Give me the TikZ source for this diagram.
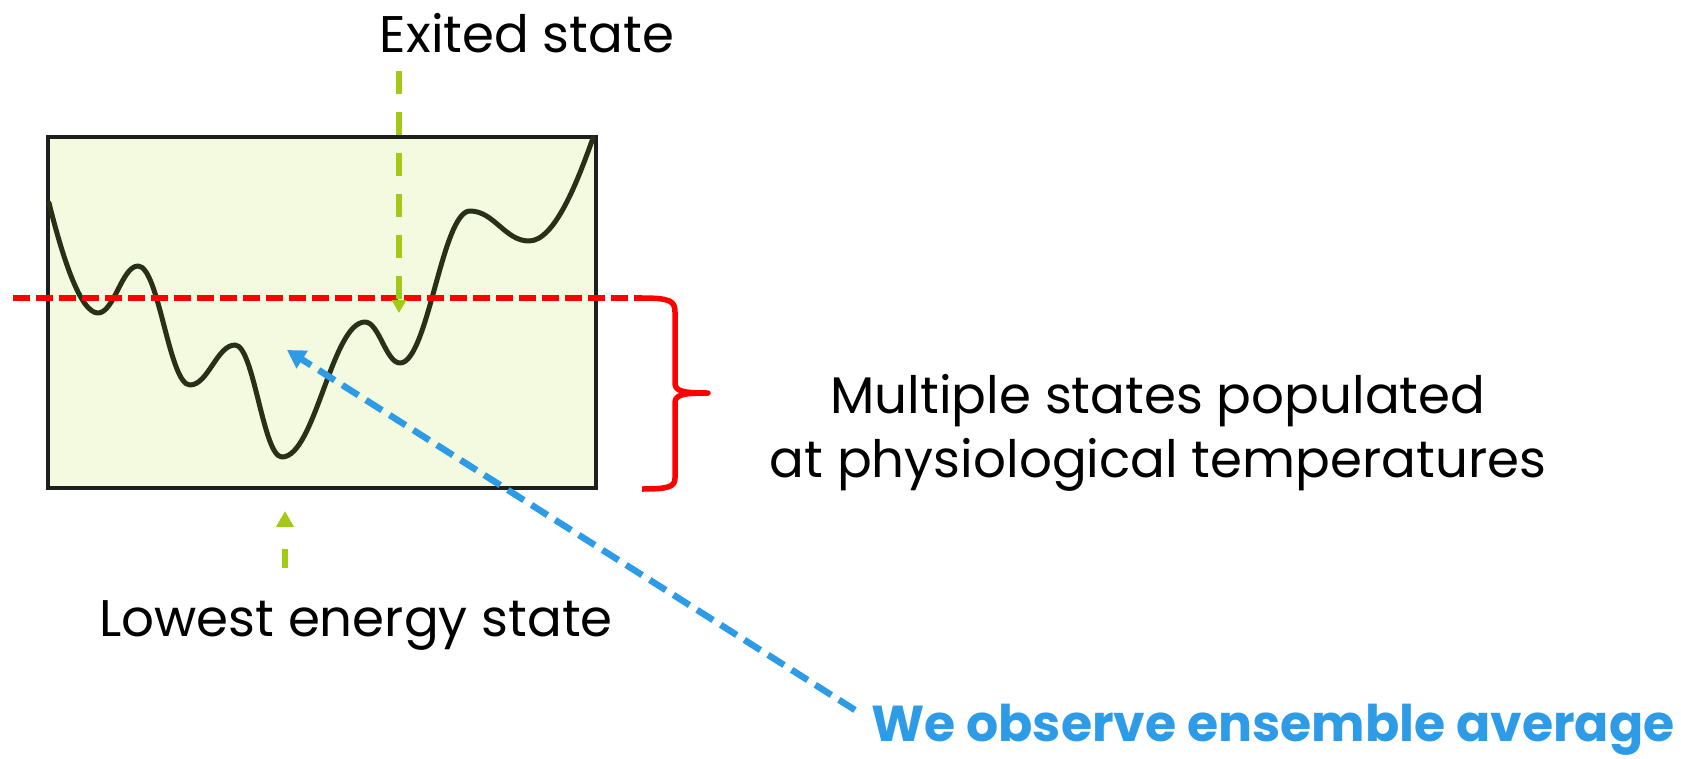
\documentclass[tikz,border=0pt]{standalone}
\usepackage{fontspec}
\setmainfont{Poppins}
\usetikzlibrary{arrows.meta}
\definecolor{boxfill}{RGB}{244,250,224}
\definecolor{boxedge}{RGB}{30,30,30}
\definecolor{curvecol}{RGB}{40,48,24}
\definecolor{greenarr}{RGB}{163,200,22}
\definecolor{bluearr}{RGB}{45,155,230}
\definecolor{redline}{RGB}{255,0,0}
\tikzset{
  labeltext/.style={font=\fontsize{51.5}{64}\selectfont, text=black, inner sep=0pt, anchor=base},
  bluetext/.style={font=\fontsize{50.5}{60}\selectfont\bfseries, text=bluearr, inner sep=0pt, anchor=base},
  energybox/.style={fill=boxfill, draw=boxedge, line width=3.5pt, inner sep=0pt, minimum width=548pt, minimum height=351pt},
  landscape/.style={draw=curvecol, line width=5pt, line join=round, line cap=round},
  thresh/.style={draw=redline, line width=6pt, dash pattern=on 17pt off 6pt},
  bracketline/.style={draw=redline, line width=5.5pt, line join=round},
  greenarrow/.style={draw=greenarr, line width=6pt, dash pattern=on 23pt off 18pt, -{Triangle[width=14pt,length=13pt]}},
  greenarrowlow/.style={draw=greenarr, line width=6.5pt, dash pattern=on 19pt off 22pt, -{Triangle[width=17pt,length=16pt]}},
  bluearrow/.style={draw=bluearr, line width=6.5pt, dash pattern=on 19pt off 9pt, -{Triangle[width=20pt,length=18pt]}}
}
\begin{document}
\begin{tikzpicture}[x=1pt,y=-1pt]
\useasboundingbox (0,0) rectangle (1681,758);
% energy box
\node[energybox] (box) at (322,312.5) {};
% energy landscape
\draw[landscape] (49,203) .. controls (62,255) and (80,313) .. (98,313)
 .. controls (114,313) and (122,266) .. (138,266)
 .. controls (159,266) and (169,385) .. (190,385)
 .. controls (208,385) and (217,345) .. (235,345)
 .. controls (254,345) and (263,457) .. (282,457)
 .. controls (315,457) and (332,322) .. (365,322)
 .. controls (379,322) and (386,363) .. (400,363)
 .. controls (428,363) and (442,211) .. (470,211)
 .. controls (494,211) and (505,241) .. (529,241)
 .. controls (555,241) and (578,180) .. (593,138);
% threshold line and bracket
\coordinate (threshL) at (13,298);
\coordinate (threshR) at (642,298);
\draw[thresh] (threshL) -- (threshR);
\draw[bracketline] (threshR) .. controls (670,298) and (675,301) .. (675,312)
  -- (675,383) .. controls (675,391) and (682,393) .. (708,393)
  .. controls (682,393) and (675,395) .. (675,403)
  -- (675,478) .. controls (675,487) and (668,489) .. (642,489);
% labels
\node[labeltext] (exited) at (527,52) {Exited state};
\node[labeltext] (lowest) at (356,636) {Lowest energy state};
\node[labeltext, align=center, anchor=base] (multi) at (1158,477) {Multiple states populated\\at physiological temperatures};
\node[bluetext] (avg) at (1273,741) {We observe ensemble average};
% arrows
\coordinate (exitstart) at (399,71);
\coordinate (exittip) at (399,313);
\draw[greenarrow] (exitstart) -- (exittip);
\coordinate (lowstart) at (285,568);
\coordinate (lowtip) at (285,511);
\draw[greenarrowlow] (lowstart) -- (lowtip);
\coordinate (avgtail) at (855,710);
\coordinate (avgtip) at (287,350);
\draw[bluearrow] (avgtail) -- (avgtip);
\end{tikzpicture}
\end{document}
